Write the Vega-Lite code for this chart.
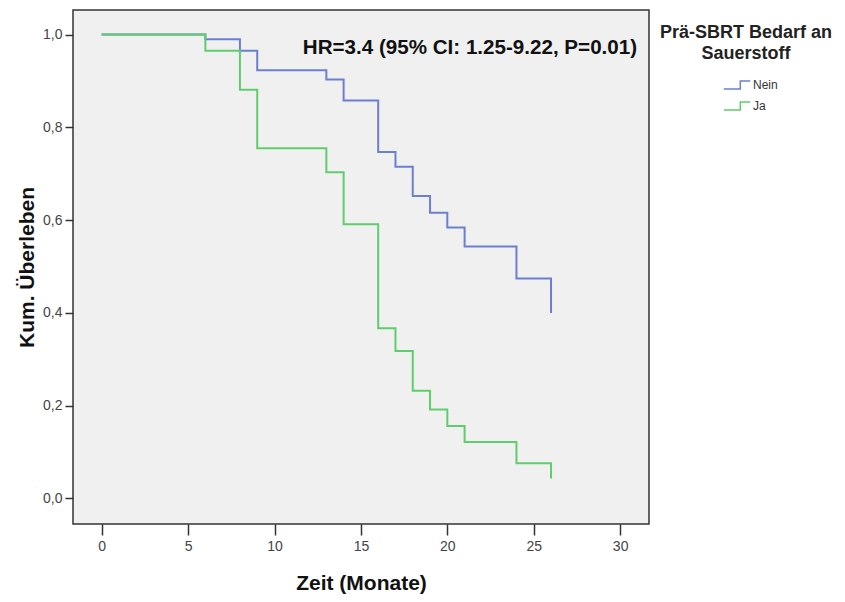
{
  "$schema": "https://vega.github.io/schema/vega-lite/v6.json",
  "width": 576,
  "height": 514,
  "autosize": {"type": "none"},
  "padding": {"left": 73, "top": 10, "right": 196, "bottom": 78},
  "background": "white",
  "config": {
    "view": {"fill": "#f0f0f0", "stroke": "#333333", "strokeWidth": 1.5},
    "font": "Liberation Sans",
    "axis": {
      "grid": false,
      "domain": false,
      "tickColor": "#333333",
      "tickWidth": 1.5,
      "labelColor": "#444444",
      "labelFont": "Liberation Sans",
      "labelFontSize": 14,
      "titleFont": "Liberation Sans",
      "titleFontSize": 21,
      "titleFontWeight": "bold",
      "titleColor": "#111111"
    }
  },
  "layer": [
    {
      "data": {
        "values": [
          {"zeit": 0, "s": 1.0, "gruppe": "Nein"},
          {"zeit": 6, "s": 0.99, "gruppe": "Nein"},
          {"zeit": 8, "s": 0.965, "gruppe": "Nein"},
          {"zeit": 9, "s": 0.923, "gruppe": "Nein"},
          {"zeit": 13, "s": 0.903, "gruppe": "Nein"},
          {"zeit": 14, "s": 0.858, "gruppe": "Nein"},
          {"zeit": 16, "s": 0.747, "gruppe": "Nein"},
          {"zeit": 17, "s": 0.715, "gruppe": "Nein"},
          {"zeit": 18, "s": 0.652, "gruppe": "Nein"},
          {"zeit": 19, "s": 0.616, "gruppe": "Nein"},
          {"zeit": 20, "s": 0.584, "gruppe": "Nein"},
          {"zeit": 21, "s": 0.543, "gruppe": "Nein"},
          {"zeit": 24, "s": 0.474, "gruppe": "Nein"},
          {"zeit": 26, "s": 0.4, "gruppe": "Nein"},
          {"zeit": 0, "s": 1.0, "gruppe": "Ja"},
          {"zeit": 6, "s": 0.965, "gruppe": "Ja"},
          {"zeit": 8, "s": 0.881, "gruppe": "Ja"},
          {"zeit": 9, "s": 0.755, "gruppe": "Ja"},
          {"zeit": 13, "s": 0.703, "gruppe": "Ja"},
          {"zeit": 14, "s": 0.591, "gruppe": "Ja"},
          {"zeit": 16, "s": 0.367, "gruppe": "Ja"},
          {"zeit": 17, "s": 0.318, "gruppe": "Ja"},
          {"zeit": 18, "s": 0.232, "gruppe": "Ja"},
          {"zeit": 19, "s": 0.192, "gruppe": "Ja"},
          {"zeit": 20, "s": 0.156, "gruppe": "Ja"},
          {"zeit": 21, "s": 0.122, "gruppe": "Ja"},
          {"zeit": 24, "s": 0.076, "gruppe": "Ja"},
          {"zeit": 26, "s": 0.043, "gruppe": "Ja"}
        ]
      },
      "mark": {"type": "line", "interpolate": "step-after", "strokeWidth": 2},
      "encoding": {
        "x": {
          "field": "zeit",
          "type": "quantitative",
          "scale": {"domain": [-1.66, 31.67], "nice": false, "zero": false},
          "axis": {"values": [0, 5, 10, 15, 20, 25, 30], "tickSize": 11, "labelPadding": 4, "title": "Zeit (Monate)", "titlePadding": 19}
        },
        "y": {
          "field": "s",
          "type": "quantitative",
          "scale": {"domain": [-0.055, 1.053], "nice": false, "zero": false},
          "axis": {"values": [0, 0.2, 0.4, 0.6, 0.8, 1.0], "tickSize": 8, "labelPadding": 3, "labelExpr": "replace(format(datum.value, '.1f'), '.', ',')", "title": "Kum. Überleben", "titlePadding": 5}
        },
        "color": {
          "field": "gruppe",
          "type": "nominal",
          "sort": ["Nein", "Ja"],
          "scale": {"domain": ["Nein", "Ja"], "range": ["#6c7fcf", "#5fcd6c"]},
          "legend": {
            "orient": "none",
            "legendX": 587,
            "legendY": 14,
            "title": ["Prä-SBRT Bedarf an", "Sauerstoff"],
            "titleFont": "Liberation Sans",
            "titleFontSize": 18,
            "titleFontWeight": "bold",
            "titleColor": "#222222",
            "titleAnchor": "middle",
            "titleAlign": "center",
            "titleLimit": 300,
            "titleLineHeight": 21,
            "titlePadding": 8,
            "symbolType": "M-1,0.3H0.25V-0.3H1",
            "symbolSize": 700,
            "symbolStrokeWidth": 1.5,
            "symbolFillColor": "transparent",
            "symbolOffset": 9,
            "labelFont": "Liberation Sans",
            "labelFontSize": 12,
            "labelColor": "#333333",
            "labelOffset": 2,
            "rowPadding": -7
          }
        }
      }
    },
    {
      "data": {"values": [{"label": "HR=3.4 (95% CI: 1.25-9.22, P=0.01)"}]},
      "mark": {"type": "text", "align": "right", "baseline": "middle", "fontSize": 20.6, "fontWeight": "bold", "font": "Liberation Sans", "color": "#111111"},
      "encoding": {
        "x": {"datum": 30.98, "type": "quantitative"},
        "y": {"datum": 0.971, "type": "quantitative"},
        "text": {"field": "label"}
      }
    }
  ]
}
